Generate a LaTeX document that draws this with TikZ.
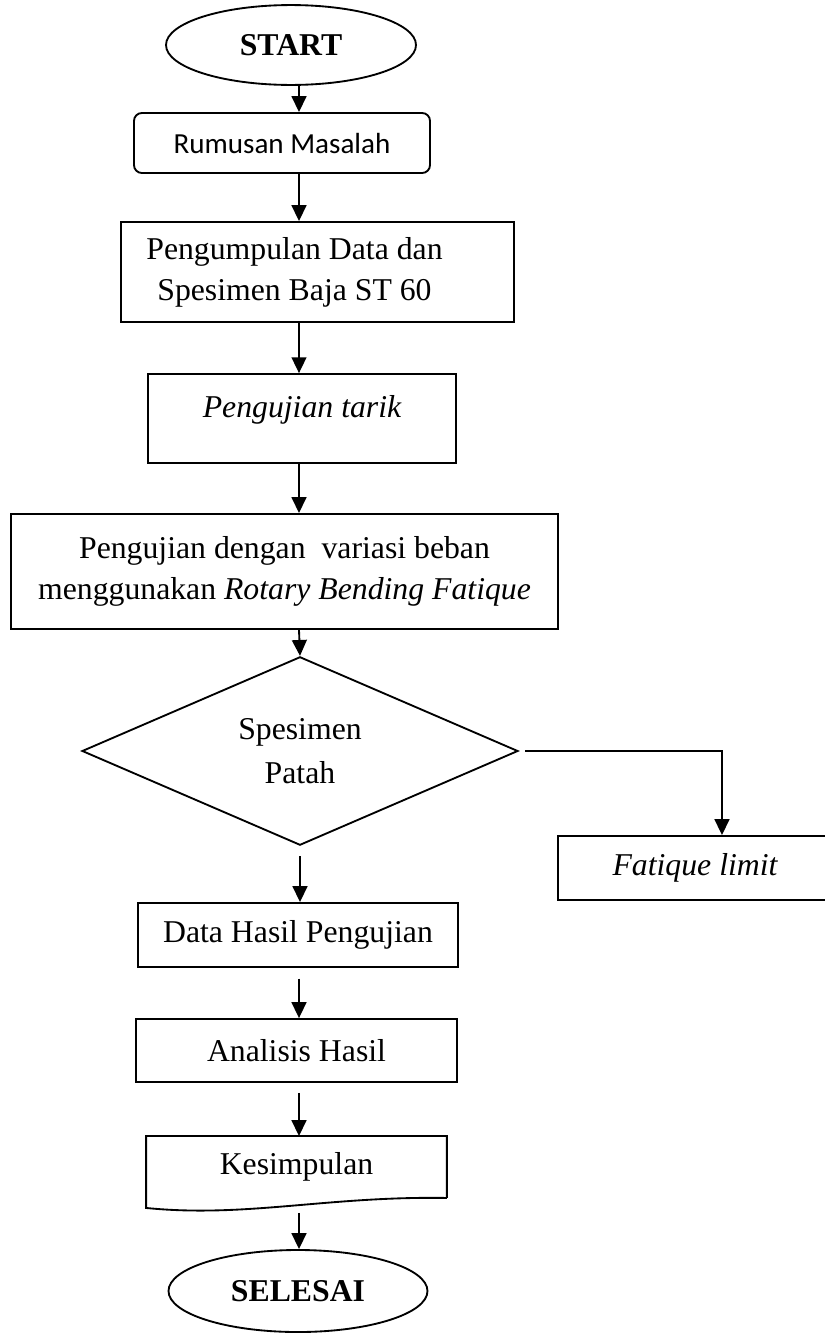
\documentclass[tikz,border=0pt]{standalone}
\usepackage{fontspec}
\setmainfont{Liberation Serif}
\newfontfamily\calibri{Carlito}
\usetikzlibrary{shapes.geometric,arrows.meta,calc}

\begin{document}
\begin{tikzpicture}[x=0.378pt, y=-0.378pt, line width=0.7pt,
                    font=\fontsize{12}{15.5}\selectfont,
                    term node/.style={ellipse,draw,inner sep=0pt,font=\fontsize{12}{15.5}\selectfont\bfseries},
                    box node/.style={rectangle,draw,align=center,inner sep=2pt},
                    doc node/.style={rectangle,align=center,inner sep=2pt},
                    decision node/.style={diamond,draw,align=center,inner sep=0pt},
                    flow/.style={-{Triangle[length=6pt,width=5.6pt]}}]

  \path[fill=white] (0,0) rectangle (825,1333);
  \useasboundingbox (0,0) rectangle (825,1333);
  \coordinate (spine) at (299,0);

  \node[term node, minimum width=94.5pt, minimum height=30.2pt] (start) at (291,45) {START};
  \node[box node, rounded corners=3pt, minimum width=111.9pt, minimum height=22.7pt,
        font=\calibri\fontsize{11}{13}\selectfont] (rumusan) at (282,143) {Rumusan Masalah};
  \node[box node, minimum width=148.6pt, minimum height=37.8pt] (data) at (317.5,272)
        {Pengumpulan Data dan\hspace*{17.4pt}\\Spesimen Baja ST 60\hspace*{17.4pt}};
  \node[box node, minimum width=116.4pt, minimum height=33.6pt, text height=8.5pt, text depth=9.2pt,
        font=\fontsize{12}{15.5}\selectfont\itshape] (tarik) at (302,418.5) {Pengujian tarik};
  \node[box node, minimum width=206.8pt, minimum height=43.5pt] (rotary) at (284.5,571.5)
        {Pengujian dengan\ \ variasi beban\\menggunakan \textit{Rotary Bending Fatique}};
  \node[decision node, minimum width=164.8pt, minimum height=66.2pt] (patah) at (300,751)
        {Spesimen\\[1pt]Patah};
  \node[box node, minimum width=103.6pt, minimum height=24.2pt,
        font=\fontsize{12}{15.5}\selectfont\itshape] (limit) at (695,868) {Fatique limit};
  \node[box node, minimum width=121pt, minimum height=24.2pt] (hasil) at (298,935) {Data Hasil Pengujian};
  \node[box node, minimum width=121.3pt, minimum height=23.8pt] (analisis) at (296.5,1050.5) {Analisis Hasil};
  \node[doc node, minimum width=113pt, minimum height=22.7pt] (kes) at (296.5,1167) {Kesimpulan};
  \node[term node, minimum width=97.9pt, minimum height=31pt] (selesai) at (298,1291) {SELESAI};

  % document shape with wavy bottom
  \draw (kes.south east) -- (kes.north east) -- (kes.north west)
        -- ($(kes.south west)+(0,10)$)
        .. controls ($(kes.south west)+(100,20)$) and ($(kes.south east)+(-120,-2)$) .. (kes.south east);

  \draw[flow] (start.south -| spine) -- (rumusan.north -| spine);
  \draw[flow] (rumusan.south -| spine) -- (data.north -| spine);
  \draw[flow] (data.south -| spine) -- (tarik.north -| spine);
  \draw[flow] (tarik.south -| spine) -- (rotary.north -| spine);
  \draw[flow] (rotary.south -| spine) -- (patah.north);
  \draw[flow] ([xshift=2.3pt]patah.east) -| ([xshift=10.2pt]limit.north);
  \draw[flow, shorten <=3.8pt] (patah.south) -- (hasil.north -| patah.south);
  \draw[flow, shorten <=4pt] (hasil.south -| spine) -- (analisis.north -| spine);
  \draw[flow, shorten <=3.8pt] (analisis.south -| spine) -- (kes.north -| spine);
  \draw[flow] ($(kes.south -| spine)+(0,15)$) -- (selesai.north -| spine);
\end{tikzpicture}
\end{document}
